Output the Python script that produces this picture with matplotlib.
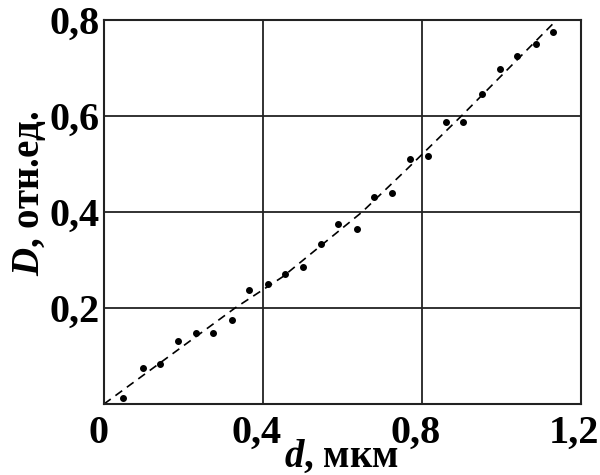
import matplotlib
matplotlib.use("Agg")
import matplotlib.pyplot as plt
import matplotlib.transforms as mtransforms

# measured points
d_um = [0.049, 0.097, 0.140, 0.186, 0.232, 0.275, 0.322, 0.365, 0.412, 0.455,
        0.501, 0.546, 0.590, 0.637, 0.679, 0.725, 0.771, 0.815, 0.862, 0.905,
        0.951, 0.997, 1.041, 1.087, 1.130]
D_rel = [0.013, 0.074, 0.083, 0.131, 0.147, 0.148, 0.176, 0.238, 0.250, 0.271,
         0.286, 0.333, 0.375, 0.365, 0.432, 0.440, 0.511, 0.517, 0.588, 0.588,
         0.645, 0.698, 0.725, 0.751, 0.776]

# dashed trend curve
fit_d = [0.0, 0.33, 0.45, 0.65, 0.76, 0.90, 1.14]
fit_D = [0.0, 0.20, 0.265, 0.40, 0.487, 0.60, 0.80]

x_ticks = [0, 0.4, 0.8, 1.2]
x_labels = ["0", "0,4", "0,8", "1,2"]
y_ticks = [0.2, 0.4, 0.6, 0.8]
y_labels = ["0,2", "0,4", "0,6", "0,8"]

plt.rcParams["font.family"] = "Liberation Serif"
plt.rcParams["font.weight"] = "bold"
plt.rcParams["mathtext.fontset"] = "custom"
plt.rcParams["mathtext.it"] = "Liberation Serif:italic:bold"
plt.rcParams["mathtext.rm"] = "Liberation Serif:bold"

fig = plt.figure(figsize=(6, 4.75), dpi=100)
ax = fig.add_axes([104 / 600, 1 - 404 / 475, 476.5 / 600, 384 / 475])

ax.plot(fit_d, fit_D, color="black", lw=1.2, linestyle=(0, (5, 3.5)))
ax.plot(d_um, D_rel, "o", color="black", ms=4)

ax.set_xlim(0, 1.2)
ax.set_ylim(0, 0.8)
ax.set_xticks(x_ticks)
ax.set_xticklabels(x_labels)
ax.set_yticks(y_ticks)
ax.set_yticklabels(y_labels)
ax.tick_params(length=0, labelsize=29, pad=3)
ax.tick_params(axis="x", pad=8)
ax.grid(True, color="#222222", lw=1.3)
for sp in ax.spines.values():
    sp.set_color("#222222")
    sp.set_linewidth(1.5)

# x tick labels sit a bit left of their ticks in the original
shift = mtransforms.ScaledTranslation(-6 / 100, 0, fig.dpi_scale_trans)
for lbl in ax.get_xticklabels():
    lbl.set_transform(lbl.get_transform() + shift)

fig.text(342 / 600, 1 - 467 / 475, r"$d$, мкм", ha="center", va="baseline",
         fontsize=28)
fig.text(30 / 600, 1 - 193 / 475, r"$D$, отн.ед.", ha="center", va="center",
         rotation=90, fontsize=28)

fig.savefig("out.png", dpi=100)
